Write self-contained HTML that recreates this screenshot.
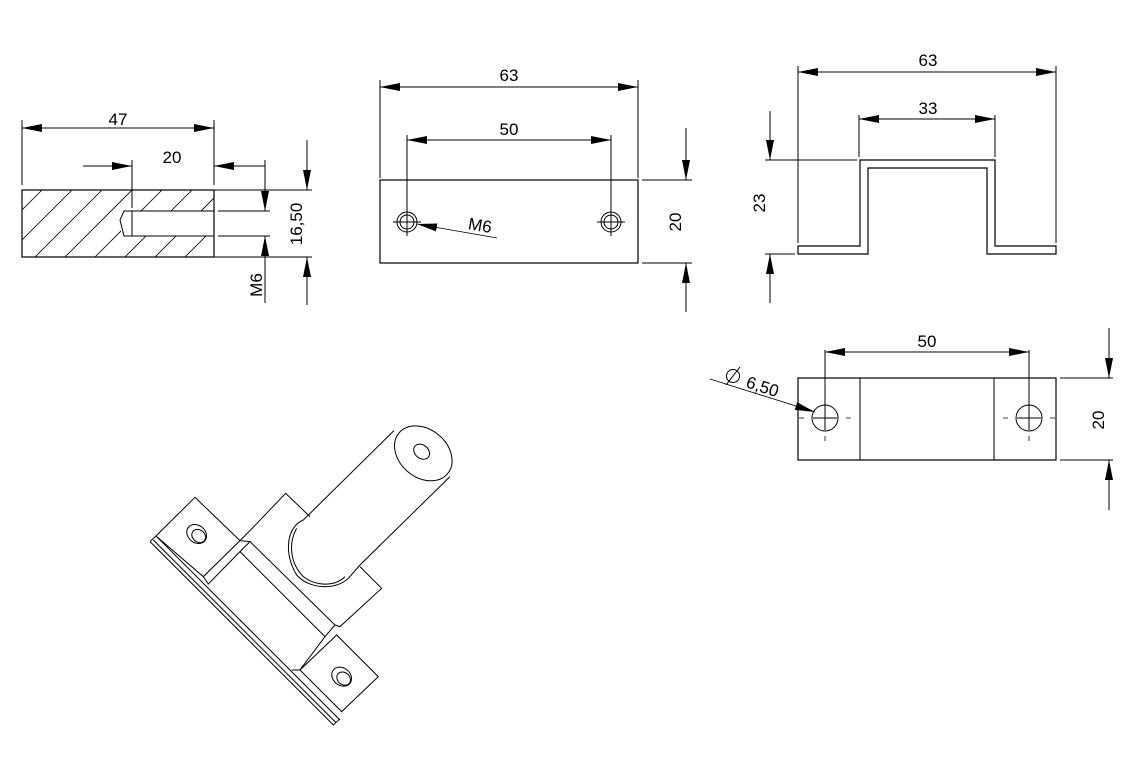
<!DOCTYPE html>
<html><head><meta charset="utf-8"><style>html,body{margin:0;padding:0;background:#fff}svg{display:block}text{font-family:"Liberation Sans",sans-serif;font-size:17px;fill:#000}</style></head><body>
<svg width="1148" height="776" viewBox="0 0 1148 776" xmlns="http://www.w3.org/2000/svg">
<defs>
<marker id="a" viewBox="0 0 20 8" refX="20" refY="4" markerWidth="20" markerHeight="8" markerUnits="userSpaceOnUse" orient="auto"><path d="M0,0 L20,4 L0,8z" fill="#000"/></marker>
<marker id="b" viewBox="0 0 20 8" refX="0" refY="4" markerWidth="20" markerHeight="8" markerUnits="userSpaceOnUse" orient="auto"><path d="M20,0 L0,4 L20,8z" fill="#000"/></marker>
<clipPath id="hc"><rect x="22" y="190" width="192" height="67"/></clipPath>
</defs>
<g stroke="#000" fill="none" stroke-width="1">
<!-- LEFT VIEW -->
<g clip-path="url(#hc)" stroke-width="0.8">
<path d="M22,210 l20,-20 M22,240 l50,-50 M22,270 l80,-80 M42,280 l90,-90 M72,280 l90,-90 M102,280 l90,-90 M132,280 l90,-90 M162,280 l90,-90 M192,280 l90,-90"/>
</g>
<rect x="121" y="211" width="93" height="25" fill="#fff" stroke="none"/>
<rect x="22" y="190" width="192" height="67" stroke-width="1.2"/>
<path d="M214,211 H132 V236 H214 M132,211 H124 L120,220 L124,236 H132"/>
<line x1="22" y1="120" x2="22" y2="185"/><line x1="214" y1="120" x2="214" y2="185"/>
<line x1="22" y1="128" x2="214" y2="128" marker-start="url(#b)" marker-end="url(#a)"/>
<line x1="132" y1="160" x2="132" y2="208"/>
<line x1="83" y1="166" x2="132" y2="166" marker-end="url(#a)"/>
<line x1="265" y1="166" x2="214" y2="166" marker-end="url(#a)"/>
<line x1="218" y1="211" x2="270" y2="211"/><line x1="218" y1="236" x2="270" y2="236"/>
<line x1="265" y1="160" x2="265" y2="211" marker-end="url(#a)"/>
<line x1="265" y1="303" x2="265" y2="236" marker-end="url(#a)"/>
<line x1="214" y1="190" x2="312" y2="190"/><line x1="214" y1="257" x2="312" y2="257"/>
<line x1="307" y1="140" x2="307" y2="190" marker-end="url(#a)"/>
<line x1="307" y1="305" x2="307" y2="257" marker-end="url(#a)"/>
<!-- MIDDLE VIEW -->
<rect x="380" y="180" width="258" height="83" stroke-width="1.2"/>
<circle cx="407" cy="222" r="10"/><circle cx="407" cy="222" r="7"/>
<circle cx="611" cy="222" r="10"/><circle cx="611" cy="222" r="7"/>
<path d="M393,222 H421 M407,208 V236 M597,222 H625 M611,208 V236"/>
<line x1="380" y1="80" x2="380" y2="178"/><line x1="638" y1="80" x2="638" y2="178"/>
<line x1="380" y1="87" x2="638" y2="87" marker-start="url(#b)" marker-end="url(#a)"/>
<line x1="407" y1="135" x2="407" y2="210"/><line x1="611" y1="135" x2="611" y2="210"/>
<line x1="407" y1="140" x2="611" y2="140" marker-start="url(#b)" marker-end="url(#a)"/>
<line x1="497" y1="238" x2="417" y2="224" marker-end="url(#a)" stroke-width="0.8"/>
<line x1="642" y1="180" x2="692" y2="180"/><line x1="642" y1="263" x2="692" y2="263"/>
<line x1="686" y1="128" x2="686" y2="180" marker-end="url(#a)"/>
<line x1="686" y1="312" x2="686" y2="263" marker-end="url(#a)"/>
<!-- U PROFILE -->
<path d="M798,246 H860 V160 H995 V246 H1056 V254 H987 V168 H868 V254 H798 Z" stroke-width="1.2"/>
<line x1="798" y1="66" x2="798" y2="243"/><line x1="1056" y1="66" x2="1056" y2="243"/>
<line x1="798" y1="72" x2="1056" y2="72" marker-start="url(#b)" marker-end="url(#a)"/>
<line x1="859" y1="115" x2="859" y2="157"/><line x1="995" y1="115" x2="995" y2="157"/>
<line x1="859" y1="119" x2="995" y2="119" marker-start="url(#b)" marker-end="url(#a)"/>
<line x1="765" y1="160" x2="857" y2="160"/><line x1="765" y1="254" x2="795" y2="254"/>
<line x1="770" y1="111" x2="770" y2="160" marker-end="url(#a)"/>
<line x1="770" y1="303" x2="770" y2="254" marker-end="url(#a)"/>
<!-- BOTTOM RIGHT VIEW -->
<rect x="798" y="378" width="258" height="82" stroke-width="1.2"/>
<path d="M860,378 V460 M994,378 V460"/>
<circle cx="825" cy="418" r="13"/><circle cx="1029" cy="418" r="13"/>
<path d="M813,418 H837 M1017,418 H1041 M825,350 V430 M1029,350 V430"/>
<path d="M799,418 h5 M846,418 h5 M825,436 v5 M1003,418 h5 M1050,418 h5 M1029,436 v5" stroke-width="0.8"/>
<line x1="825" y1="352" x2="1029" y2="352" marker-start="url(#b)" marker-end="url(#a)"/>
<line x1="710" y1="379" x2="815" y2="412" marker-end="url(#a)" stroke-width="0.8"/>
<line x1="1060" y1="378" x2="1113" y2="378"/><line x1="1060" y1="460" x2="1113" y2="460"/>
<line x1="1109" y1="328" x2="1109" y2="378" marker-end="url(#a)"/>
<line x1="1109" y1="510" x2="1109" y2="460" marker-end="url(#a)"/>
<!-- ISOMETRIC -->
<g transform="translate(140,410) scale(0.3333)" stroke-width="3">
<path d="M30,395 L580,945 L598,928 M30,395 L48,378 M40,390 L588,938 M52,382 L600,930"/>
<path d="M48,378 L165,262 L300,392 L190,500 Z"/>
<ellipse cx="170" cy="372" rx="32" ry="26" transform="rotate(40 170 372)"/>
<ellipse cx="176" cy="378" rx="22" ry="18" transform="rotate(40 176 378)"/>
<path d="M190,500 L205,522 L300,425 L330,395 L300,392 M300,392 L330,362 L437,250 L510,320"/>
<path d="M300,425 L555,680 L480,780 M330,395 L585,645 L555,680 M585,645 L600,650 L725,535 L660,470"/>
<path d="M480,780 L590,675 L715,800 L605,905 Z M455,780 L480,780"/>
<ellipse cx="605" cy="800" rx="32" ry="26" transform="rotate(40 605 800)"/>
<ellipse cx="611" cy="806" rx="22" ry="18" transform="rotate(40 611 806)"/>
<path d="M490,330 L762,62 M660,465 L930,200"/>
<path d="M490,330 C440,350 430,430 470,495 C510,540 590,540 625,505 L660,465"/>
<path d="M470,355 C445,400 450,460 490,500 C530,530 585,530 615,500"/>
<ellipse cx="850" cy="130" rx="95" ry="72" transform="rotate(40 850 130)" fill="#fff"/>
<ellipse cx="845" cy="125" rx="26" ry="20" transform="rotate(40 845 125)"/>
</g>
</g>
<text x="118" y="125" text-anchor="middle">47</text>
<text x="172" y="163" text-anchor="middle">20</text>
<text transform="translate(262,285) rotate(-90)" text-anchor="middle">M6</text>
<text transform="translate(302,224) rotate(-90)" text-anchor="middle">16,50</text>
<text x="509" y="81" text-anchor="middle">63</text>
<text x="509" y="135" text-anchor="middle">50</text>
<text x="479" y="231" text-anchor="middle" transform="rotate(10 479 231)">M6</text>
<text transform="translate(681,222) rotate(-90)" text-anchor="middle">20</text>
<text x="928" y="66" text-anchor="middle">63</text>
<text x="928" y="114" text-anchor="middle">33</text>
<text transform="translate(765,203) rotate(-90)" text-anchor="middle">23</text>
<text x="927" y="347" text-anchor="middle">50</text>
<text transform="translate(1104,420) rotate(-90)" text-anchor="middle">20</text>
<text x="745" y="387" transform="rotate(18 745 387)">6,50</text>
<circle cx="733" cy="376" r="6.5" fill="none" stroke="#000"/><line x1="726" y1="385" x2="740" y2="367" stroke="#000"/>
</svg>
</body></html>
